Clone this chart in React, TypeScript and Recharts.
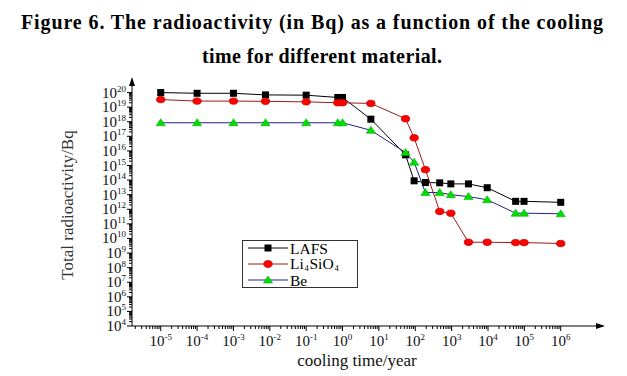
import React from 'react';
import { LineChart, Line, XAxis, YAxis } from 'recharts';

// cooling time (years)
const coolingTimes = [1e-5, 1e-4, 1e-3, 0.0076, 0.1, 0.74, 1, 6, 54, 93, 190, 470, 950, 2900, 9500, 57500, 98000, 1e6];
// activity (Bq)
const lafsValues = [1e20, 8.9e19, 8.9e19, 6.9e19, 6.6e19, 4.6e19, 4.6e19, 1.5e18, 5.4e15, 8.9e13, 6.8e13, 6.5e13, 5.5e13, 5.5e13, 3.0e13, 3.5e12, 3.5e12, 3.0e12];
const li4sio4Values = [3.3e19, 2.6e19, 2.6e19, 2.5e19, 2.3e19, 2.0e19, 2.0e19, 1.8e19, 1.6e18, 7.9e16, 5.2e14, 7.1e11, 5.4e11, 5.5e9, 5.5e9, 5.2e9, 5.2e9, 4.5e9];
const beValues = [8.5e17, 8.5e17, 8.5e17, 8.5e17, 8.5e17, 8.5e17, 8.5e17, 2.6e17, 7.8e15, 1.7e15, 1.4e13, 1.4e13, 1.0e13, 7.4e12, 4.5e12, 5.4e11, 5.4e11, 4.9e11];

const seriesNames = ['LAFS', 'Li4SiO4', 'Be'];
const xMajorExponents = [-5, -4, -3, -2, -1, 0, 1, 2, 3, 4, 5, 6];
const yMajorExponents = [4, 5, 6, 7, 8, 9, 10, 11, 12, 13, 14, 15, 16, 17, 18, 19, 20];

const titleLine1 = 'Figure 6. The radioactivity (in Bq) as a function of the cooling';
const titleLine2 = 'time for different material.';
const xLabel = 'cooling time/year';
const yLabel = 'Total radioactivity/Bq';

const data = coolingTimes.map((t, i) => ({
  t,
  lafs: lafsValues[i],
  li: li4sio4Values[i],
  be: beValues[i],
}));

const X_DOMAIN: [number, number] = [Math.pow(10, -5.79), Math.pow(10, 7.08)];
const Y_DOMAIN: [number, number] = [1e4, Math.pow(10, 20.86)];

function minorTicks(exps: number[], lo: number, hi: number) {
  const out: number[] = [];
  const minE = Math.min(...exps) - 1;
  const maxE = Math.max(...exps);
  for (let e = minE; e <= maxE; e++) {
    for (let m = 1; m <= 9; m++) {
      const v = m * Math.pow(10, e);
      if (v >= lo * 0.9999 && v <= hi * 1.0001) out.push(v);
    }
  }
  return out;
}
const xTicks = minorTicks(xMajorExponents, X_DOMAIN[0], 1e6);
const yTicks = minorTicks(yMajorExponents, 1e4, 1e20);

const FONT = '"Liberation Serif", "DejaVu Serif", serif';

function majorExp(v: number): number | null {
  const l = Math.log10(v);
  const r = Math.round(l);
  return Math.abs(l - r) < 1e-6 ? r : null;
}

const XTick = (props: any) => {
  const { x, y, payload } = props;
  const e = majorExp(payload.value);
  return (
    <g>
      <line x1={x} x2={x} y1={y} y2={y + (e !== null ? 5 : 3)} stroke="#000" strokeWidth={1} />
      {e !== null && (
        <text x={x} y={y + 20} textAnchor="middle" fontFamily={FONT} fontSize={15} fill="#111">
          10<tspan dy={-6} fontSize={9}>{String(e)}</tspan>
        </text>
      )}
    </g>
  );
};

const YTick = (props: any) => {
  const { x, y, payload } = props;
  const e = majorExp(payload.value);
  return (
    <g>
      <line x1={x - (e !== null ? 5 : 3)} x2={x} y1={y} y2={y} stroke="#000" strokeWidth={1} />
      {e !== null && (
        <text x={x - 6} y={y + 5} textAnchor="end" fontFamily={FONT} fontSize={15} fill="#111">
          10<tspan dy={-6} fontSize={9}>{String(e)}</tspan>
        </text>
      )}
    </g>
  );
};

const SquareDot = (p: any) => (
  <rect key={`s${p.index}`} x={p.cx - 3.5} y={p.cy - 3.5} width={7} height={7} fill="#000" />
);
const CircleDot = (p: any) => (
  <ellipse key={`c${p.index}`} cx={p.cx} cy={p.cy} rx={4.2} ry={3.2} fill="#ff0000" stroke="#cc0000" strokeWidth={0.8} />
);
const TriDot = (p: any) => (
  <polygon
    key={`t${p.index}`}
    points={`${p.cx},${p.cy - 4} ${p.cx - 4.6},${p.cy + 3} ${p.cx + 4.6},${p.cy + 3}`}
    fill="#00dd00"
    stroke="#00b400"
    strokeWidth={0.6}
  />
);

const LINE_COLORS = ['#000000', '#9a1a1a', '#22228a'];

export default function App() {
  return (
    <div style={{ position: 'absolute', left: 0, top: 0, width: 627, height: 376, background: '#fff' }}>
      <LineChart width={627} height={376} data={data} margin={{ top: 80, right: 27, bottom: 0, left: 0 }}>
        <XAxis
          dataKey="t"
          type="number"
          scale="log"
          domain={X_DOMAIN}
          allowDataOverflow
          ticks={xTicks}
          interval={0}
          tick={<XTick />}
          tickLine={false}
          tickSize={0}
          tickMargin={0}
          height={50}
          axisLine={{ stroke: '#000', strokeWidth: 1 }}
        />
        <YAxis
          type="number"
          scale="log"
          domain={Y_DOMAIN}
          allowDataOverflow
          ticks={yTicks}
          interval={0}
          tick={<YTick />}
          tickLine={false}
          tickSize={0}
          tickMargin={0}
          width={132}
          axisLine={{ stroke: '#000', strokeWidth: 1 }}
        />
        <Line dataKey="lafs" name={seriesNames[0]} stroke={LINE_COLORS[0]} strokeWidth={1} dot={SquareDot} isAnimationActive={false} />
        <Line dataKey="li" name={seriesNames[1]} stroke={LINE_COLORS[1]} strokeWidth={1} dot={CircleDot} isAnimationActive={false} />
        <Line dataKey="be" name={seriesNames[2]} stroke={LINE_COLORS[2]} strokeWidth={1} dot={TriDot} isAnimationActive={false} />
      </LineChart>
      <svg
        width={627}
        height={376}
        style={{ position: 'absolute', left: 0, top: 0, pointerEvents: 'none' }}
      >
        <text x={312} y={29} textAnchor="middle" fontFamily={FONT} fontWeight="bold" fontSize={20} fill="#000" textLength={582} lengthAdjust="spacing">
          {titleLine1}
        </text>
        <text x={322} y={63} textAnchor="middle" fontFamily={FONT} fontWeight="bold" fontSize={20} fill="#000" textLength={240} lengthAdjust="spacing">
          {titleLine2}
        </text>
        {/* axis arrows */}
        <polygon points="132,77 129,86 135,86" fill="#000" />
        <line x1={600} x2={603} y1={326} y2={326} stroke="#000" />
        <polygon points="605,326 596,323 596,329" fill="#000" />
        {/* axis titles */}
        <text
          x={0}
          y={0}
          transform="translate(73,205) rotate(-90)"
          textAnchor="middle"
          fontFamily={FONT}
          fontSize={17}
          fill="#333"
        >
          {yLabel}
        </text>
        <text x={357} y={366} textAnchor="middle" fontFamily={FONT} fontSize={17} fill="#111">
          {xLabel}
        </text>
        {/* legend */}
        <rect x={242.5} y={240.5} width={115} height={47} fill="#fff" stroke="#333" strokeWidth={1} />
        <g>
          <line x1={248} x2={288} y1={248} y2={248} stroke={LINE_COLORS[0]} />
          <rect x={264.5} y={244.5} width={7} height={7} fill="#000" />
          <text x={290} y={253.5} fontFamily={FONT} fontSize={15.5} fill="#000">{seriesNames[0]}</text>
        </g>
        <g>
          <line x1={248} x2={288} y1={264} y2={264} stroke={LINE_COLORS[1]} />
          <ellipse cx={268} cy={264} rx={4.2} ry={3.4} fill="#ff0000" stroke="#cc0000" strokeWidth={0.8} />
          <text x={290} y={269} fontFamily={FONT} fontSize={15.5} fill="#000">Li</text>
          <text x={304.5} y={271} fontFamily={FONT} fontSize={8.5} fill="#000">4</text>
          <text x={309.5} y={269} fontFamily={FONT} fontSize={15.5} fill="#000">SiO</text>
          <text x={334.5} y={271} fontFamily={FONT} fontSize={8.5} fill="#000">4</text>
        </g>
        <g>
          <line x1={248} x2={288} y1={280} y2={280} stroke={LINE_COLORS[2]} />
          <polygon points="268,276 263.4,283 272.6,283" fill="#00dd00" stroke="#00b400" strokeWidth={0.6} />
          <text x={290} y={285.5} fontFamily={FONT} fontSize={15.5} fill="#000">{seriesNames[2]}</text>
        </g>
      </svg>
    </div>
  );
}
